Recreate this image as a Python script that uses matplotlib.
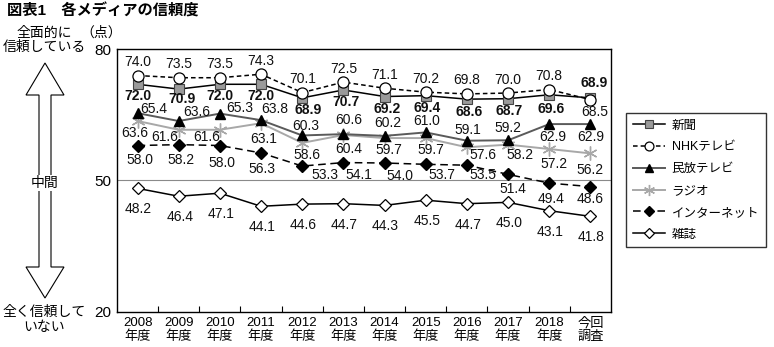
import matplotlib.pyplot as plt
from matplotlib.patches import Polygon

plt.rcParams['font.family'] = ['Liberation Sans', 'Noto Sans CJK JP']

years = ['2008\n年度', '2009\n年度', '2010\n年度', '2011\n年度', '2012\n年度', '2013\n年度',
         '2014\n年度', '2015\n年度', '2016\n年度', '2017\n年度', '2018\n年度', '今回\n調査']

shinbun = [72.0, 70.9, 72.0, 72.0, 68.9, 70.7, 69.2, 69.4, 68.6, 68.7, 69.6, 68.9]
nhk = [74.0, 73.5, 73.5, 74.3, 70.1, 72.5, 71.1, 70.2, 69.8, 70.0, 70.8, 68.5]
minpo = [65.4, 63.6, 65.3, 63.8, 60.3, 60.6, 60.2, 61.0, 59.1, 59.2, 62.9, 62.9]
radio = [63.6, 61.6, 61.6, 63.1, 58.6, 60.4, 59.7, 59.7, 57.6, 58.2, 57.2, 56.2]
internet = [58.0, 58.2, 58.0, 56.3, 53.3, 54.1, 54.0, 53.7, 53.5, 51.4, 49.4, 48.6]
zasshi = [48.2, 46.4, 47.1, 44.1, 44.6, 44.7, 44.3, 45.5, 44.7, 45.0, 43.1, 41.8]

names = ['新聞', 'NHKテレビ', '民放テレビ', 'ラジオ', 'インターネット', '雑誌']

W, H = 774, 347
fig = plt.figure(figsize=(W / 100, H / 100), dpi=100)
ax = fig.add_axes([117 / W, 1 - 311.7 / H, (611 - 117) / W, (311.7 - 49.3) / H])

x = range(len(years))

# label offsets in pixels (dx, dy up) for each series
off_shinbun = [(0, -12), (3, -10), (0, -12), (0, -12), (6, -12), (3, -12.5), (2, -12.5),
               (1, -12.5), (2, -13), (1, -12.5), (2, -14.5), (4, 14.5)]
off_nhk = [(0, 13.5)] * 11 + [(4, -12)]
off_minpo = [(16, 4), (18, 9), (20, 5.5), (14, 11), (4, 9.5), (5, 14), (3, 12.6), (1, 11),
             (1, 11), (0, 12), (4, -12.6), (0, -12.6)]
off_radio = [(-3, -11.7), (-14, -7.5), (-13, -7.5), (3, -16), (5, -12), (5, -14.4), (4, -12),
             (5, -12), (16, -8), (12, -10), (5, -15), (0, -16.5)]
off_internet = [(2, -14.5), (2, -15), (2, -17), (1, -16), (23, -9), (15, -12), (15, -13),
                (16, -11), (16, -10), (5, -15), (2, -16), (0, -12.5)]
off_zasshi = [(1, -21)] * 12

lw = 1.1
ax.axhline(50, color='#8a8a8a', lw=0.8, zorder=1)

ax.plot(x, shinbun, color='black', lw=lw, marker='s', ms=7, mfc='#9a9a9a', mec='#444444',
        mew=0.8, label=names[0], zorder=4)
ax.plot(x, nhk, color='black', lw=lw, ls=(0, (3, 2)), marker='o', ms=8, mfc='white',
        mec='black', mew=0.9, label=names[1], zorder=5)
ax.plot(x, minpo, color='#5a5a5a', lw=lw + 0.3, marker='^', ms=7.5, mfc='black', mec='black',
        label=names[2], zorder=4)
ax.plot(x, radio, color='#a8a8a8', lw=lw + 0.3, marker=(6, 2, 0), ms=10, mec='#a8a8a8',
        mew=1.0, label=names[3], zorder=3)
ax.plot(x, internet, color='black', lw=lw, ls=(0, (5, 3)), marker='D', ms=6.5, mfc='black',
        mec='black', label=names[4], zorder=4)
ax.plot(x, zasshi, color='black', lw=lw, marker='D', ms=6.5, mfc='white', mec='black',
        mew=0.9, label=names[5], zorder=4)

series = [(shinbun, off_shinbun, 'bold'), (nhk, off_nhk, 'normal'),
          (minpo, off_minpo, 'normal'), (radio, off_radio, 'normal'),
          (internet, off_internet, 'normal'), (zasshi, off_zasshi, 'normal')]
for vals, offs, wt in series:
    for i, v in enumerate(vals):
        dx, dy = offs[i]
        ax.annotate(f'{v:.1f}', (i, v), xytext=(dx * 0.72, dy * 0.72),
                    textcoords='offset points', ha='center', va='center',
                    fontsize=10, fontweight=wt, color='#111111', zorder=6)

ax.set_xlim(-0.5, len(years) - 0.5)
ax.set_ylim(20, 80)
ax.set_yticks([20, 50, 80])
ax.tick_params(axis='y', length=0, labelsize=11, pad=4)
ax.set_xticks(list(x))
ax.set_xticklabels(years, fontsize=9.5, linespacing=1.1)
ax.tick_params(axis='x', which='major', length=0, pad=4)
ax.set_xticks([i + 0.5 for i in range(len(years) - 1)], minor=True)
ax.tick_params(axis='x', which='minor', length=4, direction='in', width=0.8)
for s in ax.spines.values():
    s.set_linewidth(1.0)

leg = fig.legend(loc='upper left', bbox_to_anchor=(626 / W, 1 - 113 / H),
                 fontsize=9, frameon=True, fancybox=False, edgecolor='black',
                 handlelength=2.6, labelspacing=0.78, borderpad=0.55, handletextpad=0.5,
                 borderaxespad=0)
leg.get_frame().set_linewidth(1.0)
for h in leg.legend_handles:
    h.set_markersize(h.get_markersize() * 0.8)

# side scale with double arrow
def fp(px, py):
    return (px / W, 1 - py / H)

arrow = [(45, 63), (64, 95), (51, 95), (51, 267), (64, 267), (45, 298), (26, 267),
         (39, 267), (39, 95), (26, 95)]
fig.patches.append(Polygon([fp(*p) for p in arrow], closed=True, facecolor='white',
                           edgecolor='black', lw=0.8, transform=fig.transFigure))
fig.text(*fp(45, 183), '中間', ha='center', va='center', fontsize=10,
         bbox=dict(facecolor='white', edgecolor='none', pad=1))
fig.text(*fp(44, 33), '全面的に', ha='center', va='center', fontsize=10)
fig.text(*fp(44, 47), '信頼している', ha='center', va='center', fontsize=10)
fig.text(*fp(101, 33), '（点）', ha='center', va='center', fontsize=10)
fig.text(*fp(44, 312), '全く信頼して', ha='center', va='center', fontsize=10)
fig.text(*fp(44, 327), 'いない', ha='center', va='center', fontsize=10)
fig.text(*fp(7, 11), '図表1　各メディアの信頼度', ha='left', va='center', fontsize=11,
         fontweight='bold')

fig.savefig('out.png', dpi=100)
